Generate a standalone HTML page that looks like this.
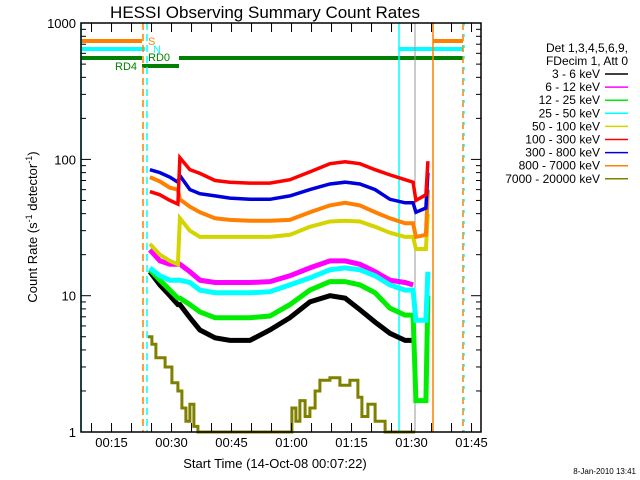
<!DOCTYPE html>
<html><head><meta charset="utf-8"><style>
html,body{margin:0;padding:0;background:#fff;}
svg{display:block;font-family:"Liberation Sans",sans-serif;}
</style></head><body>
<svg id="chart" width="640" height="480" viewBox="0 0 640 480">
<text x="265" y="18" font-size="17" text-anchor="middle">HESSI Observing Summary Count Rates</text>
<text x="275" y="468" font-size="13" text-anchor="middle">Start Time (14-Oct-08 00:07:22)</text>
<text transform="translate(37,227) rotate(-90)" font-size="13" text-anchor="middle">Count Rate (s<tspan dy="-5" font-size="9">-1</tspan><tspan dy="5"> detector</tspan><tspan dy="-5" font-size="9">-1</tspan><tspan dy="5">)</tspan></text>
<text x="636" y="474" font-size="8" text-anchor="end">8-Jan-2010 13:41</text>
<g id="marks"></g>
<g id="axes"></g>
<g id="legend"></g>
</svg>
<script>
// data (time in minutes after 00:00, counts)
const times = [24.6,27.1,29.6,31.6,32.1,34.6,37.1,40.9,44.6,49.6,54.6,59.6,64.6,69.6,73.4,77.1,80.9,84.6,88.4,90.4,91.1,93.6,94.1];
const black   = [15,12,10,8.6,8.6,6.9,5.6,4.9,4.7,4.7,5.6,6.9,9,10,9.6,7.9,6.4,5.3,4.7,4.7,null,null,null];
const magenta = [21.7,18,17,17,17,15,13,12.5,12.5,12.5,12.7,14,16,18,18,17,15,13,12.5,12,null,null,null];
const green   = [15.5,13,11,9.6,9.6,8.6,7.6,6.9,6.9,6.9,7.1,8.6,11,12.7,12.7,12,10.5,8.1,7.2,7.2,1.7,1.7,10];
const cyan    = [16,14,13,13,13,12.5,11,10.5,10.5,10.5,10.7,12,13.5,15.5,16,15.5,14,12,11,11,6.6,6.6,15];
const yellow  = [24,20,18,17,37,30,27,27,27,27,27,28,32,35,35.5,35,32,29,27,27,22,22,40];
const red     = [58,55,50,47,103,84,79,70,68,67,67,71,81,93,96,93,84,77,71,68,50,55,97];
const blue    = [84,80,74,68,76,60,56,54,52,51,51,54,60,66,68,66,60,51,48,48,41,44,80];
const orange  = [74,69,62,60,51,45,41,37,36,35.5,35.5,36,41,46,48,46,41,37,34,34,27,28,60];
const oliveTimes = [24.1,25.1,26.1,28.4,30.1,31.6,32.6,33.6,34.6,35.6,36.6,59.6,60.1,61.1,62.1,63.4,64.6,65.9,67.1,69.6,72.1,74.6,76.6,77.6,79.1,80.9,83.4,90.9];
const olive      = [5,4.4,3.5,3.0,2.3,2.0,1.5,1.2,1.6,1.1,1,1,1.5,1.2,1.7,1.3,1.5,2.0,2.4,2.5,2.2,2.4,1.8,1.3,1.6,1.2,1,1];
const xTickLabels = ["00:15","00:30","00:45","01:00","01:15","01:30","01:45"];
const xTickMinutes = [15,30,45,60,75,90,105];
const yTickValues = [1,10,100,1000];
const legendLabels = ["3 - 6 keV","6 - 12 keV","12 - 25 keV","25 - 50 keV","50 - 100 keV","100 - 300 keV","300 - 800 keV","800 - 7000 keV","7000 - 20000 keV"];
const legendColors = ["#000","#ff00ff","#00ee00","#00ffff","#d4d400","#ff0000","#0000dd","#ff8000","#808000"];

const X0=81, X1=481, Y0=23, Y1=432, T0=7.367, PXM=4, DEC=136.3;
const xs = t => X0 + (t - T0) * PXM;
const ys = v => Y1 - Math.log10(v) * DEC;
const NS="http://www.w3.org/2000/svg";
function mk(tag, attrs, parent){const e=document.createElementNS(NS,tag);for(const k in attrs)e.setAttribute(k,attrs[k]);parent.appendChild(e);return e;}
const marks=document.getElementById('marks'), axes=document.getElementById('axes'), leg=document.getElementById('legend');

function hbar(x1,x2,y,c,name){const l=mk('line',{x1:x1,x2:x2,y1:y,y2:y,stroke:c,'stroke-width':4},marks);

}
hbar(81,142,41,'#ff8000','attenuator-bar-s'); hbar(433,463,41,'#ff8000','attenuator-bar-s-2');
hbar(81,145,49,'#00ffff','night-bar'); hbar(399,463,49,'#00ffff','night-bar-2');
hbar(81,142,58,'#007f00','decim-bar'); hbar(179,463,58,'#007f00','decim-bar-2');
hbar(142,179,66,'#007f00','rd4-bar');
function lab(x,y,txt,c,name){const t=mk('text',{x:x,y:y,fill:c,'font-size':11},marks);t.textContent=txt;

}
lab(148,45,'S','#ff8000','label-s'); lab(153,53,'N','#00ffff','label-n'); lab(148,61,'RD0','#007f00','label-rd0'); lab(115,70,'RD4','#007f00','label-rd4');

function vline(x,c,dash,w,name){const l=mk('line',{x1:x,x2:x,y1:Y0,y2:Y1,stroke:c,'stroke-width':w},marks);if(dash)l.setAttribute('stroke-dasharray',dash);

}
vline(81,'#00ffff',null,1.5,'saa-line-start'); vline(143,'#ff8000','7,4',1.5,'atten-line-dashed'); vline(147,'#00ffff','7,4',1.5,'night-line-dashed');
vline(399,'#00ffff',null,1.5,'night-line'); vline(415,'#999',null,1,'gap-line'); vline(433,'#ff8000',null,1.5,'atten-line'); vline(463,'#ff8000','7,4',1.5,'atten-line-end'); vline(464,'#00ffff','3,8',1.5,'night-line-end');

(function(){let d='';for(let i=0;i<oliveTimes.length;i++){const x=xs(oliveTimes[i]),y=ys(olive[i]);d+=(i?'H'+x.toFixed(1)+'V':'M'+x.toFixed(1)+','+y.toFixed(1))+(i?y.toFixed(1):'');}
const p=mk('path',{d:d,fill:'none',stroke:'#808000','stroke-width':3},marks);

})();

const series=[[black,'#000','series-3-6-kev',5],[magenta,'#ff00ff','series-6-12-kev',5],[green,'#00ee00','series-12-25-kev',5],[cyan,'#00ffff','series-25-50-kev',5],[yellow,'#d4d400','series-50-100-kev',4],[orange,'#ff8000','series-800-7000-kev',4],[blue,'#0000dd','series-300-800-kev',3.5],[red,'#ff0000','series-100-300-kev',3.5]];
series.forEach(([vals,c,name,w])=>{let d='',pen=false;vals.forEach((v,i)=>{if(v==null){pen=false;return;}const x=xs(times[i]).toFixed(1),y=ys(v).toFixed(1);d+=(pen?'L':'M')+x+','+y;pen=true;});
const p=mk('path',{d:d,fill:'none',stroke:c,'stroke-width':w,'stroke-linejoin':'miter'},marks);

});

const box=mk('rect',{x:X0,y:Y0,width:X1-X0,height:Y1-Y0,fill:'none',stroke:'#000','stroke-width':1.5},axes);


for(let m=10;m<=110;m+=5){const x=xs(m);if(x>X1)break;const len=9;
mk('line',{x1:x,x2:x,y1:Y1,y2:Y1-len,stroke:'#000'},axes);mk('line',{x1:x,x2:x,y1:Y0,y2:Y0+len,stroke:'#000'},axes);}
xTickLabels.forEach((s,i)=>{const t=mk('text',{x:xs(xTickMinutes[i]),y:447,'font-size':13,'text-anchor':'middle'},axes);t.textContent=s;

});
for(let d=0;d<3;d++)for(let k=1;k<=9;k++){const y=ys(k*Math.pow(10,d));const len=k===1?10:5;
mk('line',{x1:X0,x2:X0+len,y1:y,y2:y,stroke:'#000'},axes);mk('line',{x1:X1,x2:X1-len,y1:y,y2:y,stroke:'#000'},axes);}
yTickValues.forEach(v=>{const t=mk('text',{x:76,y:ys(v)+5,'font-size':13,'text-anchor':'end'},axes);t.textContent=String(v);

});
[['Det 1,3,4,5,6,9,',52],['FDecim 1, Att 0',65]].forEach(([s,y])=>{const t=mk('text',{x:628,y:y,'font-size':12,'text-anchor':'end'},leg);t.textContent=s;

});
legendLabels.forEach((s,i)=>{const y=78+i*13.1;const t=mk('text',{x:600,y:y,'font-size':12,'text-anchor':'end'},leg);t.textContent=s;


const l=mk('line',{x1:605,x2:628,y1:y-4,y2:y-4,stroke:legendColors[i],'stroke-width':1.5},leg);

});
</script>
</body></html>
